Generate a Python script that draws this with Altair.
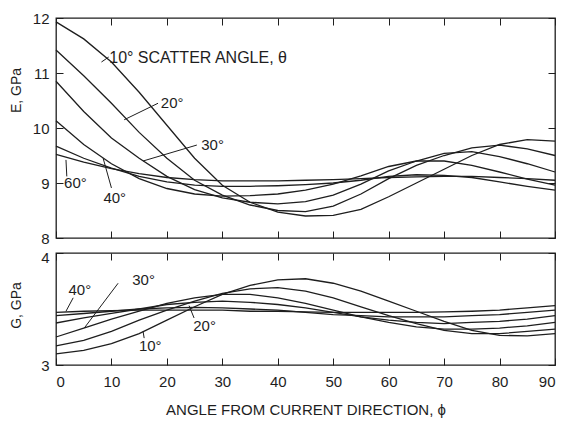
import altair as alt
import pandas as pd

# ---------------- data ----------------
phi = [0, 5, 10, 15, 20, 25, 30, 35, 40, 45, 50, 55, 60, 65, 70, 75, 80, 85, 90]
thetas = ["10°", "20°", "30°", "40°", "50°", "60°"]

E10 = [11.93, 11.62, 11.20, 10.65, 10.05, 9.45, 8.96, 8.65, 8.47, 8.40, 8.41, 8.52, 8.75, 9.00, 9.25, 9.50, 9.70, 9.79, 9.76]
E20 = [11.42, 10.95, 10.45, 9.92, 9.45, 9.05, 8.78, 8.60, 8.50, 8.48, 8.58, 8.80, 9.08, 9.32, 9.50, 9.64, 9.69, 9.62, 9.50]
E30 = [10.85, 10.30, 9.82, 9.45, 9.12, 8.88, 8.73, 8.65, 8.62, 8.66, 8.78, 8.98, 9.22, 9.40, 9.54, 9.57, 9.48, 9.35, 9.20]
E40 = [10.13, 9.70, 9.35, 9.08, 8.90, 8.80, 8.76, 8.77, 8.80, 8.87, 8.98, 9.13, 9.30, 9.40, 9.40, 9.32, 9.20, 9.07, 8.96]
E50 = [9.67, 9.45, 9.27, 9.12, 9.02, 8.96, 8.94, 8.94, 8.95, 8.97, 9.00, 9.05, 9.12, 9.15, 9.14, 9.10, 9.02, 8.94, 8.87]
E60 = [9.52, 9.38, 9.26, 9.17, 9.10, 9.06, 9.04, 9.04, 9.04, 9.05, 9.06, 9.08, 9.10, 9.11, 9.12, 9.12, 9.10, 9.08, 9.05]

G10 = [3.10, 3.13, 3.19, 3.28, 3.40, 3.52, 3.63, 3.71, 3.76, 3.77, 3.73, 3.66, 3.57, 3.48, 3.39, 3.31, 3.265, 3.26, 3.28]
G20 = [3.17, 3.22, 3.30, 3.40, 3.49, 3.57, 3.64, 3.68, 3.69, 3.66, 3.60, 3.52, 3.44, 3.37, 3.31, 3.28, 3.28, 3.30, 3.32]
G30 = [3.25, 3.33, 3.41, 3.48, 3.55, 3.60, 3.63, 3.63, 3.60, 3.55, 3.49, 3.43, 3.38, 3.34, 3.32, 3.32, 3.33, 3.35, 3.38]
G40 = [3.375, 3.42, 3.46, 3.50, 3.54, 3.56, 3.57, 3.56, 3.54, 3.51, 3.47, 3.43, 3.40, 3.38, 3.37, 3.38, 3.39, 3.41, 3.44]
G50 = [3.44, 3.46, 3.48, 3.50, 3.51, 3.515, 3.51, 3.50, 3.49, 3.47, 3.45, 3.44, 3.43, 3.43, 3.43, 3.44, 3.45, 3.47, 3.49]
G60 = [3.47, 3.48, 3.485, 3.49, 3.49, 3.49, 3.49, 3.48, 3.48, 3.475, 3.47, 3.47, 3.47, 3.47, 3.475, 3.48, 3.49, 3.51, 3.53]

x_ticks = [0, 10, 20, 30, 40, 50, 60, 70, 80, 90]
e_ticks = [8, 9, 10, 11, 12]
g_ticks = [3, 4]

# annotation labels (data units)
e_main_text = ["10° SCATTER ANGLE, θ"]
e_main_x = [9.6]
e_main_y = [11.27]
e_lab_text = ["20°", "30°", "40°", "60°"]
e_lab_x = [18.9, 26.2, 10.6, 1.45]
e_lab_y = [10.45, 9.69, 8.73, 9.0]
e_lab_align = ["left", "left", "center", "left"]
e_lead_x = [8.2, 18.4, 25.4, 10.0, 1.95]
e_lead_y = [11.20, 10.45, 9.69, 8.91, 9.12]
e_lead_x2 = [9.5, 12.3, 15.7, 8.5, 1.8]
e_lead_y2 = [11.29, 10.15, 9.40, 9.45, 9.42]

g_lab_text = ["40°", "30°", "20°", "10°"]
g_lab_x = [4.3, 15.8, 26.8, 17.0]
g_lab_y = [3.67, 3.76, 3.35, 3.17]
g_lead_x = [3.1, 11.2, 24.9, 15.9]
g_lead_y = [3.60, 3.73, 3.42, 3.24]
g_lead_x2 = [1.8, 5.1, 24.0, 15.7]
g_lead_y2 = [3.48, 3.33, 3.53, 3.30]

# ---------------- tables ----------------
rows = []
for th, ev, gv in zip(thetas, [E10, E20, E30, E40, E50, E60], [G10, G20, G30, G40, G50, G60]):
    for p, e, g in zip(phi, ev, gv):
        rows.append({"theta": th, "phi": p, "E": e, "G": g})
curves = pd.DataFrame(rows)

e_main = pd.DataFrame({"t": e_main_text, "x": e_main_x, "y": e_main_y})
e_labels = pd.DataFrame({"t": e_lab_text, "x": e_lab_x, "y": e_lab_y, "align": e_lab_align})
e_leads = pd.DataFrame({"x": e_lead_x, "y": e_lead_y, "x2": e_lead_x2, "y2": e_lead_y2})
g_labels = pd.DataFrame({"t": g_lab_text, "x": g_lab_x, "y": g_lab_y})
g_leads = pd.DataFrame({"x": g_lead_x, "y": g_lead_y, "x2": g_lead_x2, "y2": g_lead_y2})

FONT = "Liberation Sans"
INK = "#1e1e1e"
TK = 7

xscale = alt.Scale(domain=[0, 90], nice=False, zero=False)
escale = alt.Scale(domain=[8, 12], nice=False, zero=False)
gscale = alt.Scale(domain=[3, 4], nice=False, zero=False)


def ax(orient, values, labels=True, title=None, lp=7, tfs=14, **kw):
    return alt.Axis(orient=orient, values=values, labels=labels, title=title,
                    offset=-TK, tickSize=TK, domain=False, grid=False, format="d",
                    tickColor=INK, tickWidth=1, labelColor=INK, labelFont=FONT,
                    labelFontSize=15, titleFont=FONT, titleFontSize=tfs,
                    titleFontWeight="normal", titleColor=INK, labelPadding=lp,
                    minExtent=0, **kw)


def txt(df, scale_y, align, size):
    return alt.Chart(df).mark_text(font=FONT, fontSize=size, color=INK, baseline="middle",
                                   align=align).encode(
        x=alt.X("x:Q", scale=xscale, axis=None),
        y=alt.Y("y:Q", scale=scale_y, axis=None), text="t:N")


# ---------------- top panel ----------------
top_lines = alt.Chart(curves).mark_line(color=INK, strokeWidth=1.3).encode(
    x=alt.X("phi:Q", scale=xscale, axis=ax("bottom", x_ticks, labels=False)),
    y=alt.Y("E:Q", scale=escale,
            axis=ax("left", e_ticks, title="E, GPa", titleX=-40, titleY=72, titlePadding=0)),
    detail="theta:N",
)
top_lead = alt.Chart(e_leads).mark_rule(color=INK, strokeWidth=1).encode(
    x=alt.X("x:Q", scale=xscale, axis=ax("top", x_ticks, labels=False)),
    y=alt.Y("y:Q", scale=escale, axis=ax("right", e_ticks, labels=False)),
    x2="x2:Q", y2="y2:Q",
)
top = alt.layer(
    top_lines, top_lead,
    txt(e_main, escale, "left", 16),
    txt(e_labels[e_labels["align"] == "left"], escale, "left", 15),
    txt(e_labels[e_labels["align"] == "center"], escale, "center", 15),
).resolve_axis(x="independent", y="independent").properties(width=499, height=220)

# ---------------- bottom panel ----------------
bot_lines = alt.Chart(curves).mark_line(color=INK, strokeWidth=1.3).encode(
    x=alt.X("phi:Q", scale=xscale,
            axis=ax("bottom", x_ticks, title="ANGLE FROM CURRENT DIRECTION, ϕ",
                    lp=9, tfs=15, titlePadding=13)),
    y=alt.Y("G:Q", scale=gscale,
            axis=ax("left", g_ticks, title="G, GPa", titleX=-40, titleY=52, titlePadding=0,
                    labelOffset={"condition": {"test": "datum.value == 4", "value": 4}, "value": 0})),
    detail="theta:N",
)
bot_lead = alt.Chart(g_leads).mark_rule(color=INK, strokeWidth=1).encode(
    x=alt.X("x:Q", scale=xscale, axis=ax("top", x_ticks, labels=False)),
    y=alt.Y("y:Q", scale=gscale, axis=ax("right", g_ticks, labels=False)),
    x2="x2:Q", y2="y2:Q",
)
bottom = alt.layer(bot_lines, bot_lead, txt(g_labels, gscale, "center", 15)).resolve_axis(
    x="independent", y="independent").properties(width=499, height=112)

chart = alt.vconcat(top, bottom, spacing=15, bounds="flush").properties(
    padding={"left": 8, "top": 10, "right": 8, "bottom": 3},
    background="white",
).configure_view(stroke=INK, strokeWidth=1.3)

chart.save("out.html", embed_options={"renderer": "svg", "actions": False})
